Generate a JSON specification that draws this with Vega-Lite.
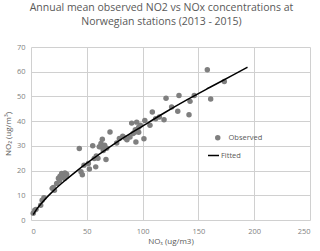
{
  "$schema": "https://vega.github.io/schema/vega-lite/v6.json",
  "width": 279,
  "height": 173,
  "autosize": {"type": "none"},
  "padding": {"left": 31, "top": 47, "right": 10, "bottom": 31},
  "background": "white",
  "title": {
    "text": ["Annual mean observed NO2 vs NOx concentrations at", "Norwegian stations (2013 - 2015)"],
    "font": "Open Sans",
    "fontSize": 10.5,
    "fontWeight": "normal",
    "color": "#595959",
    "lineHeight": 14,
    "anchor": "middle",
    "dx": -9,
    "offset": 16
  },
  "config": {
    "view": {"stroke": null},
    "axis": {
      "labelFont": "Open Sans",
      "titleFont": "Open Sans",
      "labelColor": "#7f7f7f",
      "titleColor": "#595959",
      "labelFontSize": 7.5,
      "titleFontSize": 8,
      "titleFontWeight": "normal",
      "grid": true,
      "gridColor": "#d0d0d0",
      "gridOpacity": 1,
      "gridWidth": 1,
      "domain": false,
      "ticks": false,
      "labelOverlap": false
    },
    "legend": {
      "labelFont": "Open Sans",
      "labelFontSize": 7.5,
      "labelColor": "#595959"
    }
  },
  "datasets": {
    "obs": [
      {"nox": 2, "no2": 2.7}, {"nox": 3.4, "no2": 4}, {"nox": 4.5, "no2": 4.3}, {"nox": 8.7, "no2": 6},
      {"nox": 10, "no2": 8}, {"nox": 11.6, "no2": 9}, {"nox": 19, "no2": 12.8}, {"nox": 21, "no2": 12},
      {"nox": 20, "no2": 13.2}, {"nox": 23, "no2": 14.8}, {"nox": 24.6, "no2": 16.9}, {"nox": 26, "no2": 17.7},
      {"nox": 27.5, "no2": 18.8}, {"nox": 29, "no2": 18}, {"nox": 30.4, "no2": 19}, {"nox": 32, "no2": 18.5},
      {"nox": 28.3, "no2": 17.3}, {"nox": 30, "no2": 16.8}, {"nox": 25.5, "no2": 15.8}, {"nox": 31.5, "no2": 17.5},
      {"nox": 43.3, "no2": 28.9}, {"nox": 44.8, "no2": 19.5}, {"nox": 46, "no2": 18.3}, {"nox": 47.5, "no2": 22.2},
      {"nox": 51.4, "no2": 22.9}, {"nox": 52.3, "no2": 20.6}, {"nox": 55.3, "no2": 30}, {"nox": 56.7, "no2": 24.9},
      {"nox": 58, "no2": 21.5}, {"nox": 58.5, "no2": 25.9}, {"nox": 60, "no2": 25}, {"nox": 61.2, "no2": 29.6},
      {"nox": 62.7, "no2": 31}, {"nox": 63.9, "no2": 32.7}, {"nox": 64.8, "no2": 28.1}, {"nox": 67.2, "no2": 24.5},
      {"nox": 67.8, "no2": 29}, {"nox": 66, "no2": 30.2}, {"nox": 63, "no2": 29.5}, {"nox": 70.8, "no2": 35.6},
      {"nox": 76.8, "no2": 31.2}, {"nox": 79.2, "no2": 33}, {"nox": 82.2, "no2": 33.9}, {"nox": 84.5, "no2": 33.2},
      {"nox": 86, "no2": 32.5}, {"nox": 88.7, "no2": 33.6}, {"nox": 90.2, "no2": 39.2}, {"nox": 91.5, "no2": 35},
      {"nox": 93, "no2": 35.5}, {"nox": 94.7, "no2": 39.6}, {"nox": 94, "no2": 31.6}, {"nox": 95, "no2": 36.5},
      {"nox": 96.5, "no2": 37.5}, {"nox": 98, "no2": 38.3}, {"nox": 96.5, "no2": 35.5}, {"nox": 93.5, "no2": 36.5},
      {"nox": 101.2, "no2": 32.9}, {"nox": 102, "no2": 40.3}, {"nox": 106.6, "no2": 38.3}, {"nox": 108.7, "no2": 43.7},
      {"nox": 111.7, "no2": 41}, {"nox": 115, "no2": 41.7}, {"nox": 119.2, "no2": 40.6}, {"nox": 121, "no2": 49.3},
      {"nox": 126, "no2": 45.7}, {"nox": 131.5, "no2": 44}, {"nox": 132.6, "no2": 50.4}, {"nox": 141.6, "no2": 42.6},
      {"nox": 142.5, "no2": 48}, {"nox": 146.3, "no2": 50.4}, {"nox": 158, "no2": 60.8}, {"nox": 161, "no2": 49},
      {"nox": 173.2, "no2": 56}
    ],
    "fit": [
      {"nox": 2, "no2": 2.2}, {"nox": 5, "no2": 4.3}, {"nox": 10, "no2": 7.1}, {"nox": 20, "no2": 11.8},
      {"nox": 30, "no2": 15.8}, {"nox": 40, "no2": 19.5}, {"nox": 50, "no2": 23}, {"nox": 60, "no2": 26.2},
      {"nox": 80, "no2": 32.4}, {"nox": 100, "no2": 38}, {"nox": 120, "no2": 43.5}, {"nox": 140, "no2": 48.7},
      {"nox": 160, "no2": 53.6}, {"nox": 180, "no2": 58.4}, {"nox": 194, "no2": 61.8}
    ]
  },
  "encoding": {
    "x": {
      "field": "nox", "type": "quantitative",
      "scale": {"domain": [0, 250], "nice": false, "zero": true},
      "axis": {"values": [0, 50, 100, 150, 200, 250], "grid": true, "title": "NOₓ (ug/m3)", "labelPadding": 7, "titlePadding": 3, "labelOverlap": false}
    },
    "y": {
      "field": "no2", "type": "quantitative",
      "scale": {"domain": [0, 70], "nice": false, "zero": true},
      "axis": {"values": [0, 10, 20, 30, 40, 50, 60, 70], "grid": true, "title": "NO₂ (ug/m³)", "labelPadding": 6, "titlePadding": 4, "labelOverlap": false}
    }
  },
  "layer": [
    {
      "data": {"name": "obs"},
      "transform": [{"calculate": "'Observed'", "as": "series"}],
      "mark": {"type": "circle", "size": 30, "opacity": 1},
      "encoding": {
        "fill": {
          "field": "series", "type": "nominal",
          "scale": {"domain": ["Observed"], "range": ["#7f7f7f"]},
          "legend": {"title": null, "orient": "none", "legendX": 183, "legendY": 87, "labelOffset": 7, "symbolSize": 30, "symbolStrokeWidth": 0}
        }
      }
    },
    {
      "data": {"name": "fit"},
      "transform": [{"calculate": "'Fitted'", "as": "series"}],
      "mark": {"type": "line", "strokeWidth": 1.5, "interpolate": "monotone"},
      "encoding": {
        "stroke": {
          "field": "series", "type": "nominal",
          "scale": {"domain": ["Fitted"], "range": ["black"]},
          "legend": {"title": null, "orient": "none", "legendX": 176, "legendY": 102, "labelOffset": 1, "symbolSize": 121, "symbolStrokeWidth": 1.5}
        }
      }
    }
  ]
}
